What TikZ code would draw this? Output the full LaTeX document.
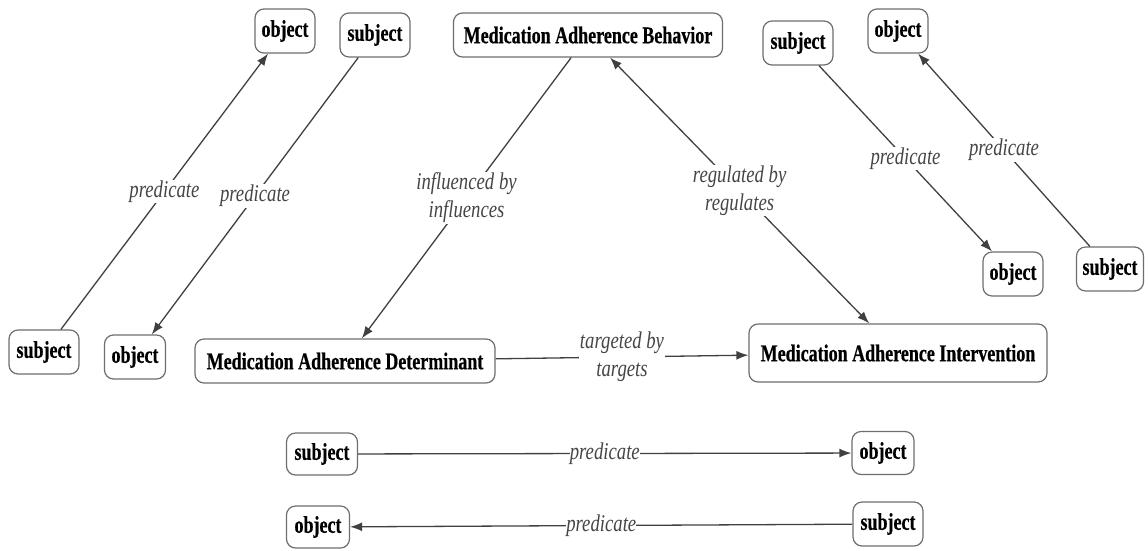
\documentclass[tikz,border=0pt]{standalone}
\usepackage{fontspec}
\setmainfont{Liberation Serif}[FakeStretch=0.75, BoldFeatures={FakeBold=0.6}]
\newfontfamily\lblfont{Liberation Serif}[FakeStretch=0.78]
\usetikzlibrary{arrows.meta}
\definecolor{boxgray}{HTML}{6E6E6E}
\definecolor{linegray}{HTML}{404040}
\definecolor{labelgray}{HTML}{454545}
\begin{document}
\begin{tikzpicture}[x=1pt,y=-1pt,
  term/.style={draw=boxgray, line width=1.2pt, rounded corners=9pt, fill=white,
    font=\fontsize{24}{28}\selectfont\bfseries, text=black, inner sep=0pt,
    minimum height=44pt},
  rel/.style={line width=1.3pt, draw=linegray},
  tip/.style={-{Latex[length=12pt,width=9pt]}},
  bothtips/.style={{Latex[length=12pt,width=9pt]}-{Latex[length=12pt,width=9pt]}},
  lbl/.style={fill=white, inner sep=1pt, text=labelgray, align=center,
    font=\lblfont\fontsize{24}{28}\selectfont\itshape}]
\useasboundingbox (0,0) rectangle (1148,550);

% core concepts
\node[term, minimum width=269pt] (beh) at (588,35) {Medication Adherence Behavior};
\node[term, minimum width=300pt] (det) at (345,361) {Medication Adherence Determinant};
\node[term, minimum width=298pt, minimum height=58pt] (int) at (898,353) {Medication Adherence Intervention};

% legend triples
\node[term, minimum width=60pt] (o1) at (285,31) {object};
\node[term, minimum width=70pt] (s1) at (375,35) {subject};
\node[term, minimum width=70pt] (s2) at (44,352) {subject};
\node[term, minimum width=61pt] (o2) at (135,357) {object};
\node[term, minimum width=70pt] (s3) at (798,43) {subject};
\node[term, minimum width=60pt] (o3) at (898,31) {object};
\node[term, minimum width=60pt] (o4) at (1013,274) {object};
\node[term, minimum width=67pt] (s4) at (1110,269) {subject};
\node[term, minimum width=71pt, minimum height=42pt] (s5) at (322,454) {subject};
\node[term, minimum width=62pt, minimum height=43pt] (o5) at (883,453) {object};
\node[term, minimum width=63pt, minimum height=42pt] (o6) at (318,527) {object};
\node[term, minimum width=70pt] (s6) at (888,524) {subject};

% relations between the core concepts
\draw[rel, tip] (beh) -- node[lbl] {influenced by\\influences} (det);
\draw[rel, bothtips] (int) -- node[lbl] {regulated by\\regulates} (beh);
\draw[rel, tip] (det) -- node[lbl] {targeted by\\targets} (int);

% generic predicate arrows
\draw[rel, tip] (s2) -- node[lbl] {predicate} (o1);
\draw[rel, tip] (s1) -- node[lbl] {predicate} (o2);
\draw[rel, tip] (s3) -- node[lbl] {predicate} (o4);
\draw[rel, tip] (s4) -- node[lbl] {predicate} (o3);
\draw[rel, tip] (s5) -- node[lbl, inner sep=0pt] {predicate} (o5);
\draw[rel, tip] (s6) -- node[lbl, inner sep=0pt] {predicate} (o6);
\end{tikzpicture}
\end{document}
